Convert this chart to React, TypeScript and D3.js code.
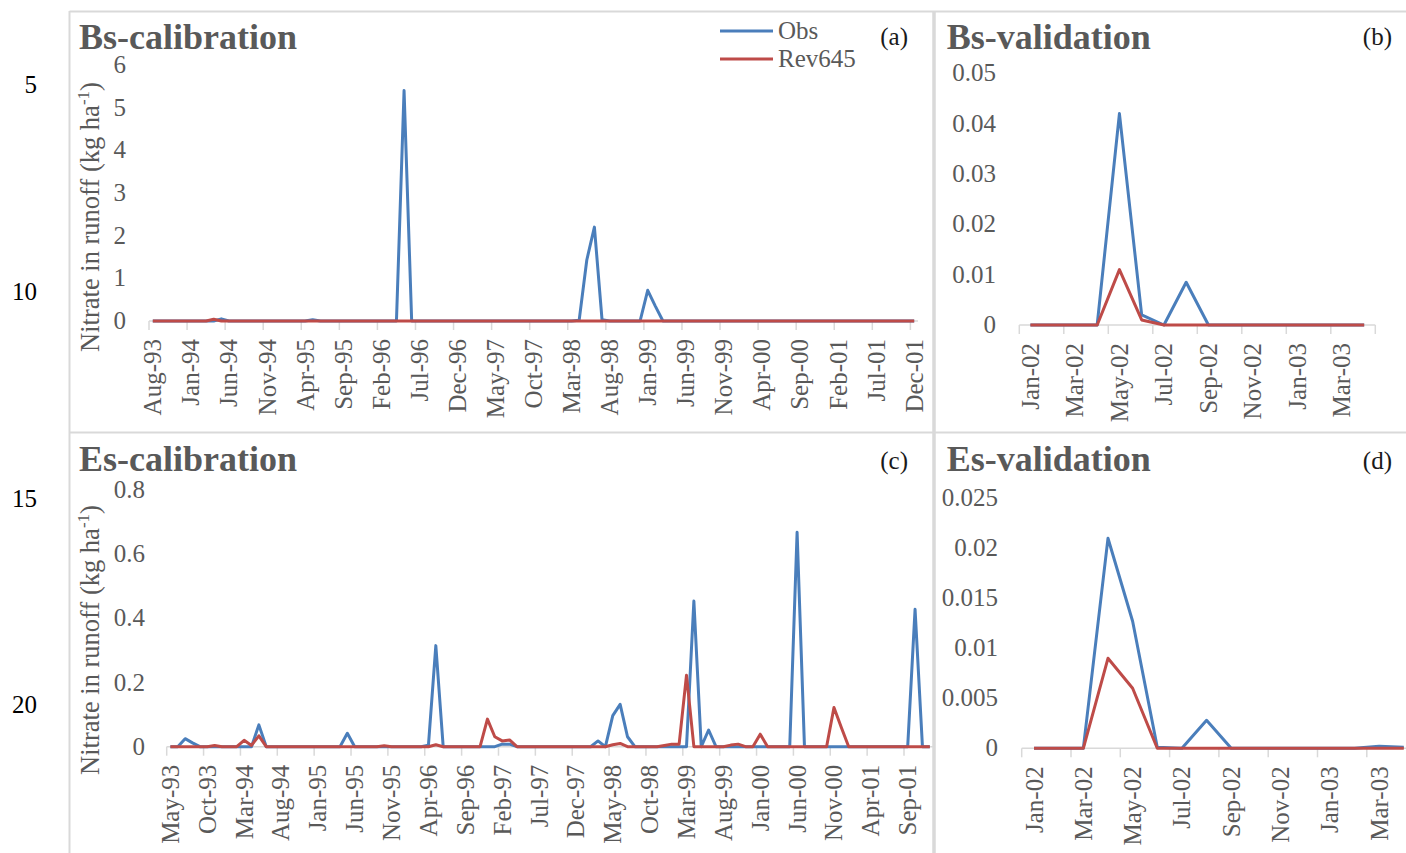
import React from 'react';
import * as d3 from 'd3';

// ---------- colours ----------
const BLUE = '#4A7EBB';
const RED = '#BE4B48';
const TXT = '#595959';
const GRID = '#D9D9D9';
const FONT = "'Liberation Serif', 'Times New Roman', serif";

// ---------- data ----------
// (a) Bs-calibration, monthly Aug-93 .. Dec-01
const bsCalObs = [
  0, 0, 0, 0, 0, 0, 0, 0, 0, 0.05,
  0, 0, 0, 0, 0, 0, 0, 0, 0, 0,
  0, 0.03, 0, 0, 0, 0, 0, 0, 0, 0,
  0, 0, 0, 5.4, 0, 0, 0, 0, 0, 0,
  0, 0, 0, 0, 0, 0, 0, 0, 0, 0,
  0, 0, 0, 0, 0, 0, 0.02, 1.43, 2.2, 0.03,
  0, 0, 0, 0, 0, 0.72, 0.35, 0, 0, 0,
  0, 0, 0, 0, 0, 0, 0, 0, 0, 0,
  0, 0, 0, 0, 0, 0, 0, 0, 0, 0,
  0, 0, 0, 0, 0, 0, 0, 0, 0, 0,
  0,
];
const bsCalRev = [
  0, 0, 0, 0, 0, 0, 0, 0, 0.04, 0,
  0, 0, 0, 0, 0, 0, 0, 0, 0, 0,
  0, 0, 0, 0, 0, 0, 0, 0, 0, 0,
  0, 0, 0, 0, 0, 0, 0, 0, 0, 0,
  0, 0, 0, 0, 0, 0, 0, 0, 0, 0,
  0, 0, 0, 0, 0, 0, 0, 0, 0, 0,
  0, 0, 0, 0, 0, 0, 0, 0, 0, 0,
  0, 0, 0, 0, 0, 0, 0, 0, 0, 0,
  0, 0, 0, 0, 0, 0, 0, 0, 0, 0,
  0, 0, 0, 0, 0, 0, 0, 0, 0, 0,
  0,
];
const bsCalTickLabels = [
  'Aug-93', 'Jan-94', 'Jun-94', 'Nov-94', 'Apr-95', 'Sep-95', 'Feb-96', 'Jul-96',
  'Dec-96', 'May-97', 'Oct-97', 'Mar-98', 'Aug-98', 'Jan-99', 'Jun-99', 'Nov-99',
  'Apr-00', 'Sep-00', 'Feb-01', 'Jul-01', 'Dec-01',
];
const bsCalYTicks = [0, 1, 2, 3, 4, 5, 6];

// (b) Bs-validation, monthly Jan-02 .. Apr-03
const bsValObs = [0, 0, 0, 0, 0.042, 0.002, 0, 0.0085, 0, 0, 0, 0, 0, 0, 0, 0];
const bsValRev = [0, 0, 0, 0, 0.011, 0.001, 0, 0, 0, 0, 0, 0, 0, 0, 0, 0];
const valTickLabels = ['Jan-02', 'Mar-02', 'May-02', 'Jul-02', 'Sep-02', 'Nov-02', 'Jan-03', 'Mar-03'];
const bsValYTicks = [0, 0.01, 0.02, 0.03, 0.04, 0.05];

// (c) Es-calibration, monthly May-93 .. Dec-01
const esCalObs = [
  0, 0, 0.025, 0.012, 0, 0, 0, 0, 0, 0,
  0, 0, 0.068, 0, 0, 0, 0, 0, 0, 0,
  0, 0, 0, 0, 0.042, 0, 0, 0, 0, 0,
  0, 0, 0, 0, 0, 0.005, 0.315, 0, 0, 0,
  0, 0, 0, 0, 0, 0.008, 0.008, 0, 0, 0,
  0, 0, 0, 0, 0, 0, 0, 0, 0.018, 0,
  0.097, 0.132, 0.031, 0, 0, 0, 0, 0, 0, 0,
  0, 0.454, 0, 0.052, 0, 0, 0, 0, 0, 0,
  0, 0, 0, 0, 0, 0.668, 0, 0, 0, 0,
  0, 0, 0, 0, 0, 0, 0, 0, 0, 0,
  0, 0.428, 0, 0,
];
const esCalRev = [
  0, 0, 0, 0, 0, 0, 0.004, 0, 0, 0,
  0.02, 0.004, 0.034, 0, 0, 0, 0, 0, 0, 0,
  0, 0, 0, 0, 0, 0, 0, 0, 0, 0.003,
  0, 0, 0, 0, 0, 0, 0.006, 0, 0, 0,
  0, 0, 0, 0.086, 0.031, 0.018, 0.021, 0, 0, 0,
  0, 0, 0, 0, 0, 0, 0, 0, 0, 0,
  0.006, 0.01, 0, 0, 0, 0, 0, 0.004, 0.008, 0.008,
  0.223, 0, 0, 0, 0, 0, 0.005, 0.008, 0, 0,
  0.039, 0, 0, 0, 0, 0, 0, 0, 0, 0,
  0.122, 0.06, 0, 0, 0, 0, 0, 0, 0, 0,
  0, 0, 0, 0,
];
const esCalTickLabels = [
  'May-93', 'Oct-93', 'Mar-94', 'Aug-94', 'Jan-95', 'Jun-95', 'Nov-95', 'Apr-96',
  'Sep-96', 'Feb-97', 'Jul-97', 'Dec-97', 'May-98', 'Oct-98', 'Mar-99', 'Aug-99',
  'Jan-00', 'Jun-00', 'Nov-00', 'Apr-01', 'Sep-01',
];
const esCalYTicks = [0, 0.2, 0.4, 0.6, 0.8];

// (d) Es-validation, monthly Jan-02 .. Apr-03
const esValObs = [0, 0, 0, 0.021, 0.0127, 0.0001, 0, 0.0028, 0, 0, 0, 0, 0, 0, 0.0002, 0.0001];
const esValRev = [0, 0, 0, 0.009, 0.006, 0, 0, 0, 0, 0, 0, 0, 0, 0, 0, 0];
const esValYTicks = [0, 0.005, 0.01, 0.015, 0.02, 0.025];

const lineNumbers = ['5', '10', '15', '20'];

// ---------- helpers ----------
const fmtMonth = d3.timeFormat('%b-%y');
function monthCats(start: Date, n: number): string[] {
  return d3.timeMonth.range(start, d3.timeMonth.offset(start, n)).map(fmtMonth);
}

type PanelProps = {
  cats: string[];
  obs: number[];
  rev: number[];
  tickLabels: string[];
  tickEvery: number;
  yTicks: number[];
  yMax: number;
  x0: number;
  x1: number;
  yZero: number;
  yTop: number;
  yLabelRight: number;
  title: string;
  titleX: number;
  titleY: number;
  tag: string;
  tagX: number;
  tagY: number;
  yTitle?: { x: number; y: number };
};

function Panel(p: PanelProps) {
  const x = d3.scaleBand<string>().domain(p.cats).range([p.x0, p.x1]).paddingInner(0).paddingOuter(0);
  const bw = x.bandwidth();
  const y = d3.scaleLinear().domain([0, p.yMax]).range([p.yZero, p.yTop]);
  const cx = (c: string) => (x(c) as number) + bw / 2;
  const line = d3
    .line<number>()
    .x((_, i) => cx(p.cats[i]))
    .y((v) => y(v));
  const fmtY = (v: number) => String(+v.toFixed(4));
  const n = p.cats.length;
  const tickPos: number[] = [];
  for (let k = 0; k <= n; k += p.tickEvery) tickPos.push(p.x0 + k * bw);

  return (
    <g>
      {/* x axis */}
      <line x1={p.x0} x2={p.x1} y1={p.yZero} y2={p.yZero} stroke={GRID} strokeWidth={1.5} />
      {tickPos.map((tx, i) => (
        <line key={i} x1={tx} x2={tx} y1={p.yZero} y2={p.yZero + 9} stroke={GRID} strokeWidth={1.5} />
      ))}
      {p.tickLabels.map((lab) => (
        <text
          key={lab}
          transform={`translate(${cx(lab)},${p.yZero + 18}) rotate(-90)`}
          textAnchor="end"
          dy="0.34em"
          fontSize={25}
          fill={TXT}
        >
          {lab}
        </text>
      ))}
      {/* y tick labels */}
      {p.yTicks.map((v) => (
        <text key={v} x={p.yLabelRight} y={y(v)} dy="0.32em" textAnchor="end" fontSize={25} fill={TXT}>
          {fmtY(v)}
        </text>
      ))}
      {/* series */}
      <path d={line(p.obs) || ''} fill="none" stroke={BLUE} strokeWidth={3} strokeLinejoin="round" />
      <path d={line(p.rev) || ''} fill="none" stroke={RED} strokeWidth={3} strokeLinejoin="round" />
      {/* title and tag */}
      <text x={p.titleX} y={p.titleY} fontSize={36} fontWeight="bold" fill={TXT}>
        {p.title}
      </text>
      <text x={p.tagX} y={p.tagY} fontSize={25} textAnchor="end" fill="#1a1a1a">
        {p.tag}
      </text>
      {p.yTitle && (
        <text
          transform={`translate(${p.yTitle.x},${p.yTitle.y}) rotate(-90)`}
          textAnchor="middle"
          fontSize={26.5}
          fill={TXT}
        >
          Nitrate in runoff (kg ha
          <tspan fontSize={17} dy={-10}>
            -1
          </tspan>
          <tspan dy={10}>)</tspan>
        </text>
      )}
    </g>
  );
}

export default function App() {
  const bsCalCats = monthCats(new Date(1993, 7, 1), bsCalObs.length);
  const esCalCats = monthCats(new Date(1993, 4, 1), esCalObs.length);
  const valCats = monthCats(new Date(2002, 0, 1), bsValObs.length);

  return (
    <svg
      width={1406}
      height={853}
      style={{ position: 'absolute', left: 0, top: 0, background: '#fff' }}
      fontFamily={FONT}
    >
      <rect x={0} y={0} width={1406} height={853} fill="#fff" />
      {/* panel borders */}
      <line x1={69.5} x2={1406} y1={11.5} y2={11.5} stroke={GRID} strokeWidth={2} />
      <line x1={69.5} x2={69.5} y1={11} y2={853} stroke={GRID} strokeWidth={2} />
      <line x1={934} x2={934} y1={11} y2={853} stroke={GRID} strokeWidth={3.5} />
      <line x1={69.5} x2={1406} y1={432.5} y2={432.5} stroke={GRID} strokeWidth={2} />

      {/* line numbers */}
      {lineNumbers.map((t, i) => (
        <text key={t} x={37} y={[93, 300, 507, 713][i]} textAnchor="end" fontSize={25} fill="#000">
          {t}
        </text>
      ))}

      <Panel
        cats={bsCalCats}
        obs={bsCalObs}
        rev={bsCalRev}
        tickLabels={bsCalTickLabels}
        tickEvery={5}
        yTicks={bsCalYTicks}
        yMax={6}
        x0={149}
        x1={918}
        yZero={321}
        yTop={65}
        yLabelRight={126}
        title="Bs-calibration"
        titleX={79}
        titleY={49}
        tag="(a)"
        tagX={908}
        tagY={45}
        yTitle={{ x: 99, y: 217 }}
      />
      <Panel
        cats={valCats}
        obs={bsValObs}
        rev={bsValRev}
        tickLabels={valTickLabels}
        tickEvery={2}
        yTicks={bsValYTicks}
        yMax={0.05}
        x0={1019.3}
        x1={1375.3}
        yZero={325}
        yTop={73.3}
        yLabelRight={996}
        title="Bs-validation"
        titleX={946.7}
        titleY={49}
        tag="(b)"
        tagX={1392}
        tagY={45}
      />
      <Panel
        cats={esCalCats}
        obs={esCalObs}
        rev={esCalRev}
        tickLabels={esCalTickLabels}
        tickEvery={5}
        yTicks={esCalYTicks}
        yMax={0.8}
        x0={166.7}
        x1={933.5}
        yZero={746.7}
        yTop={490}
        yLabelRight={145}
        title="Es-calibration"
        titleX={79}
        titleY={471}
        tag="(c)"
        tagX={908}
        tagY={469}
        yTitle={{ x: 99, y: 640 }}
      />
      <Panel
        cats={valCats}
        obs={esValObs}
        rev={esValRev}
        tickLabels={valTickLabels}
        tickEvery={2}
        yTicks={esValYTicks}
        yMax={0.025}
        x0={1021.7}
        x1={1416.1}
        yZero={748.3}
        yTop={498.3}
        yLabelRight={998}
        title="Es-validation"
        titleX={946.7}
        titleY={471}
        tag="(d)"
        tagX={1392}
        tagY={469}
      />

      {/* legend */}
      <line x1={720} x2={773} y1={31} y2={31} stroke={BLUE} strokeWidth={3} />
      <text x={778} y={39} fontSize={25} fill={TXT}>
        Obs
      </text>
      <line x1={720} x2={773} y1={59} y2={59} stroke={RED} strokeWidth={3} />
      <text x={778} y={67} fontSize={25} fill={TXT}>
        Rev645
      </text>
    </svg>
  );
}
